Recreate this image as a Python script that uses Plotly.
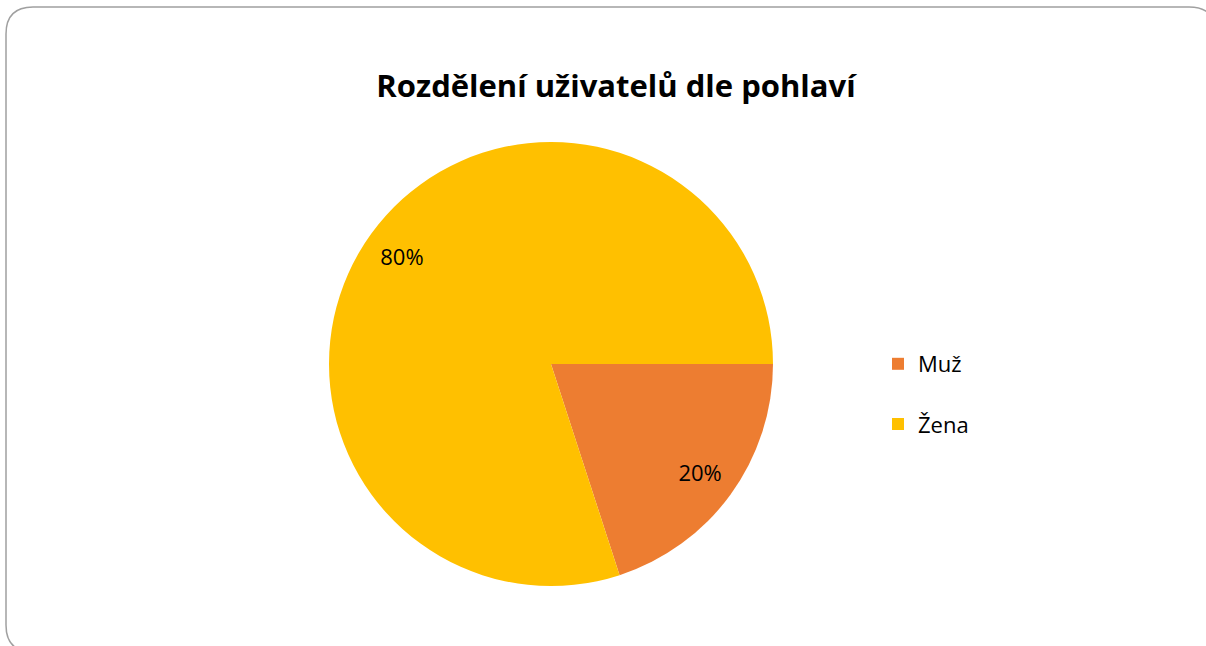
import plotly.graph_objects as go

labels = ["Muž", "Žena"]
values = [20, 80]
colors = ["#ED7D31", "#FFC000"]
title_text = "Rozdělení uživatelů dle pohlaví"

W, H = 1206, 646


def px(x):
    return x / W


def py(y):
    return 1 - y / H


# rounded frame around the chart area
x0, y0, x1, y1, r = 6, 7, 1216, 652, 27
path = (
    f"M {px(x0 + r)} {py(y0)} L {px(x1 - r)} {py(y0)} "
    f"Q {px(x1)} {py(y0)} {px(x1)} {py(y0 + r)} L {px(x1)} {py(y1 - r)} "
    f"Q {px(x1)} {py(y1)} {px(x1 - r)} {py(y1)} L {px(x0 + r)} {py(y1)} "
    f"Q {px(x0)} {py(y1)} {px(x0)} {py(y1 - r)} L {px(x0)} {py(y0 + r)} "
    f"Q {px(x0)} {py(y0)} {px(x0 + r)} {py(y0)} Z"
)

# legend entries get an extra blank line for the wide spacing
legend_labels = [l + "<br> " for l in labels]

cx, cy, rad = 551, 364, 222
dom = dict(x=[px(cx - rad), px(cx + rad)], y=[py(cy + rad), py(cy - rad)])

fig = go.Figure()
fig.add_trace(
    go.Pie(
        labels=legend_labels,
        values=values,
        marker=dict(colors=colors, line=dict(width=0)),
        sort=False,
        direction="clockwise",
        rotation=90,
        textinfo="none",
        domain=dom,
        hoverinfo="label+percent",
    )
)
# transparent ring carrying the percentage labels further out
fig.add_trace(
    go.Pie(
        labels=labels,
        values=values,
        marker=dict(colors=["rgba(0,0,0,0)"] * len(values), line=dict(width=0)),
        sort=False,
        direction="clockwise",
        rotation=90,
        hole=0.66,
        showlegend=False,
        textinfo="percent",
        texttemplate="%{percent:.0%}",
        textposition="inside",
        insidetextorientation="horizontal",
        textfont=dict(family="Open Sans", size=22, color="#000000"),
        domain=dom,
        hoverinfo="skip",
    )
)

fig.update_layout(
    width=W,
    height=H,
    margin=dict(l=0, r=0, t=0, b=0),
    paper_bgcolor="white",
    plot_bgcolor="white",
    title=dict(
        text=f"<b>{title_text}</b>",
        x=px(616),
        xanchor="center",
        y=py(86),
        yanchor="middle",
        font=dict(family="Open Sans", size=31, color="#000000"),
    ),
    legend=dict(
        x=px(878),
        xanchor="left",
        y=py(343),
        yanchor="top",
        valign="top",
        font=dict(family="Open Sans", size=22, color="#000000"),
        bgcolor="rgba(0,0,0,0)",
    ),
    shapes=[
        dict(
            type="path",
            xref="paper",
            yref="paper",
            path=path,
            line=dict(color="#A0A0A0", width=1.5),
            fillcolor="rgba(0,0,0,0)",
        )
    ],
)

fig.write_html(
    "out.html",
    config={"displayModeBar": False},
    post_script="document.body.style.margin='0';",
)
